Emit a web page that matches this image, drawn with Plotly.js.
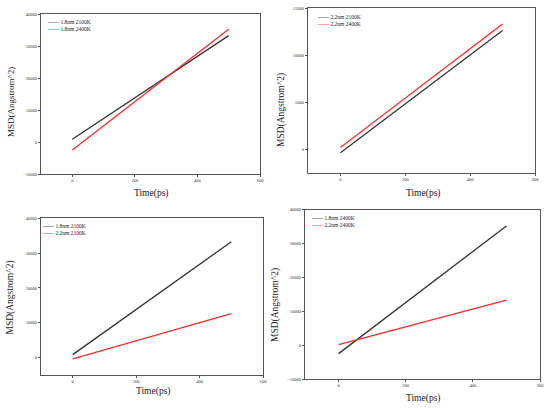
<!DOCTYPE html>
<html>
<head>
<meta charset="utf-8">
<script src="https://cdn.plot.ly/plotly-3.0.1.min.js"></script>
<style>html,body{margin:0;padding:0;background:#fff}#chart{width:550px;height:408px}</style>
</head>
<body>
<div id="chart"></div>
<script>
// Data (linear MSD fits)
var time = [0, 500];
var msd_18nm_2100K = [850, 33250];
var msd_18nm_2400K = [-2500, 35200];
var msd_22nm_2100K = [-370, 12600];
var msd_22nm_2400K = [170, 13300];
var names = {
  a: "1.8nm 2100K",
  b: "1.8nm 2400K",
  c: "2.2nm 2100K",
  d: "2.2nm 2400K"
};
var xTickVals = [0, 200, 400, 600];
var xTitle = "Time(ps)";
var yTitle = "MSD(Angstrom^2)";

var BLACK = "#333333", RED = "#ff2a2a";
var FONT = "Liberation Serif";

function tr(y, name, color, xa, ya) {
  return {x: time, y: y, name: name, type: "scatter", mode: "lines",
    line: {color: color, width: 1.3}, xaxis: xa, yaxis: ya, showlegend: false, hoverinfo: "skip"};
}

var data = [
  tr(msd_18nm_2100K, names.a, BLACK, "x", "y"),
  tr(msd_18nm_2400K, names.b, RED, "x", "y"),
  tr(msd_22nm_2100K, names.c, BLACK, "x2", "y2"),
  tr(msd_22nm_2400K, names.d, RED, "x2", "y2"),
  tr(msd_18nm_2100K, names.a, BLACK, "x3", "y3"),
  tr(msd_22nm_2100K, names.c, RED, "x3", "y3"),
  tr(msd_18nm_2400K, names.b, BLACK, "x4", "y4"),
  tr(msd_22nm_2400K, names.d, RED, "x4", "y4")
];

var W = 550, H = 408;
function px(v) { return v / W; }
function py(v) { return 1 - v / H; }

var tickFont = {family: FONT, size: 4.5, color: "#333"};
function xax(l, r, anchor) {
  return {domain: [px(l), px(r)], range: [-100, 600], anchor: anchor,
    tickvals: xTickVals, ticks: "outside", ticklen: 2, tickcolor: "#555",
    showline: true, mirror: true, linecolor: "#555", linewidth: 1,
    showgrid: false, zeroline: false, tickfont: tickFont};
}
function yax(t, b, range, dtick, anchor) {
  return {domain: [py(b), py(t)], range: range, anchor: anchor, dtick: dtick, tick0: 0,
    ticks: "outside", ticklen: 2, tickcolor: "#555",
    exponentformat: "none", separatethousands: false, tickformat: "d",
    showline: true, mirror: true, linecolor: "#555", linewidth: 1,
    showgrid: false, zeroline: false, tickfont: tickFont};
}

var annotations = [];
function txt(x, y, text, size, angle) {
  annotations.push({xref: "paper", yref: "paper", x: px(x), y: py(y), text: text,
    showarrow: false, xanchor: "center", yanchor: "middle", textangle: angle || 0,
    font: {family: FONT, size: size, color: "#222"}});
}
function sample(color) {
  return "<span style='color:" + color + "'><b>\u2014\u2014</b></span> ";
}
function leg(x, y, n1, c1, n2, c2) {
  annotations.push({xref: "paper", yref: "paper", x: px(x), y: py(y),
    text: sample(c1) + n1 + "<br>" + sample(c2) + n2,
    showarrow: false, xanchor: "left", yanchor: "top", align: "left",
    font: {family: FONT, size: 5.5, color: "#222"}});
}

// axis titles
txt(151, 193, xTitle, 9.5); txt(11, 102, yTitle, 9, -90);
txt(423, 193, xTitle, 9.5); txt(282, 110, yTitle, 9.5, -90);
txt(153, 391, xTitle, 9.5); txt(9.5, 298, yTitle, 9.5, -90);
txt(423, 398, xTitle, 9.5); txt(275, 305, yTitle, 9.5, -90);

// legends
leg(45, 17.5, names.a, BLACK, names.b, RED);
leg(315, 11.5, names.c, BLACK, names.d, RED);
leg(40, 220.5, names.a, BLACK, names.c, RED);
leg(309, 213, names.b, BLACK, names.d, RED);

var layout = {
  width: W, height: H, margin: {l: 0, r: 0, t: 0, b: 0},
  paper_bgcolor: "#fff", plot_bgcolor: "#fff", showlegend: false,
  font: {family: FONT},
  xaxis: xax(41, 260, "y"),
  yaxis: yax(14, 174, [-10000, 40000], 10000, "x"),
  xaxis2: xax(308, 535, "y2"),
  yaxis2: yax(8, 172.7, [-2500, 15000], 5000, "x2"),
  xaxis3: xax(41, 263, "y3"),
  yaxis3: yax(218.3, 375, [-5000, 40000], 10000, "x3"),
  xaxis4: xax(305, 540, "y4"),
  yaxis4: yax(209.7, 379, [-10000, 40000], 10000, "x4"),
  annotations: annotations
};

Plotly.newPlot("chart", data, layout, {displayModeBar: false, staticPlot: true});
</script>
</body>
</html>
